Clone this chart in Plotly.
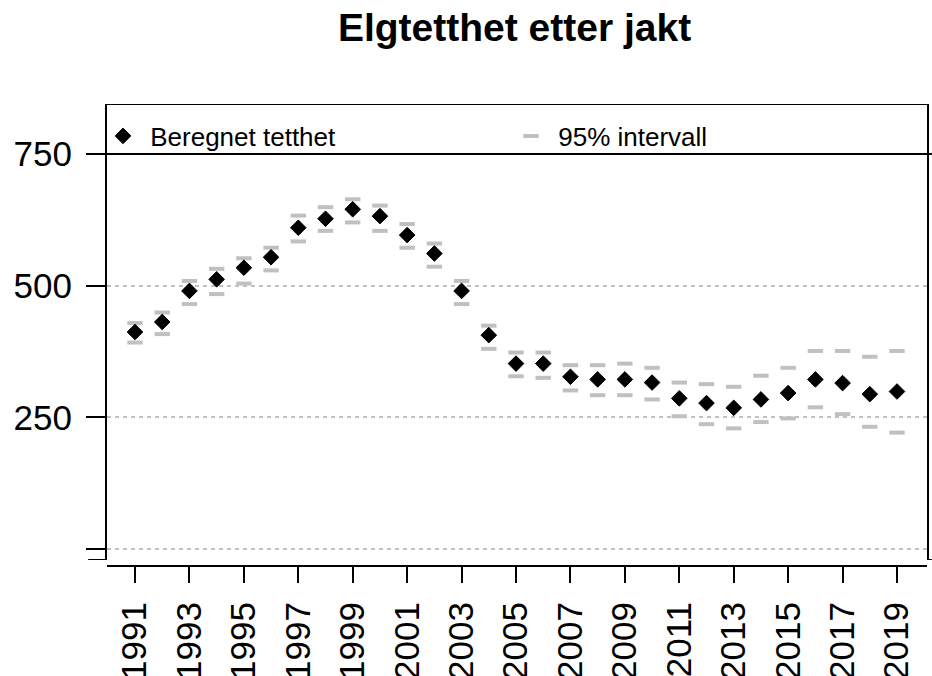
import plotly.graph_objects as go

years = list(range(1991, 2020))
estimate = [412, 431, 490, 512, 534, 554, 610, 627, 645, 632, 596, 561, 490, 406, 352,
            352, 327, 322, 322, 316, 286, 277, 268, 284, 296, 322, 315, 294, 299]
upper = [429, 449, 509, 532, 552, 572, 633, 649, 664, 652, 617, 580, 509, 424, 373,
         373, 349, 349, 352, 344, 316, 313, 308, 329, 344, 376, 376, 365, 376]
lower = [392, 408, 465, 484, 504, 529, 584, 604, 620, 604, 572, 536, 465, 380, 328,
         325, 301, 292, 292, 284, 252, 237, 229, 241, 248, 269, 256, 232, 221]
x_ticks = list(range(1991, 2020, 2))
y_ticks = [0, 250, 500, 750]
y_labels = ["", "250", "500", "750"]

FONT = "Arial, Liberation Sans, sans-serif"
grey = "#c0c0c0"
y_lo, y_hi = -20.9, 844.9

fig = go.Figure()

fig.add_trace(go.Scatter(
    x=years, y=upper, mode="markers", name="\u00a095% intervall",
    legendgroup="ci", legendrank=2,
    marker=dict(symbol="line-ew", size=11, color=grey, line=dict(color=grey, width=4)),
))
fig.add_trace(go.Scatter(
    x=years, y=lower, mode="markers", name="95% intervall",
    legendgroup="ci", showlegend=False,
    marker=dict(symbol="line-ew", size=11, color=grey, line=dict(color=grey, width=4)),
))
fig.add_trace(go.Scatter(
    x=years, y=estimate, mode="markers", name="\u00a0Beregnet tetthet", legendrank=1,
    marker=dict(symbol="diamond", size=12, color="black", line=dict(color="black", width=1)),
))

# legend box bottom (solid line at 750) and top border
fig.add_shape(type="line", xref="paper", yref="y", x0=0, x1=1.006, y0=750, y1=750,
              line=dict(color="black", width=2))
fig.add_shape(type="line", xref="paper", yref="y", x0=0, x1=1, y0=y_hi, y1=y_hi,
              line=dict(color="black", width=2))
# little end ticks at the bottom of the frame
fig.add_shape(type="line", xref="paper", yref="y", x0=-0.023, x1=0, y0=y_lo, y1=y_lo,
              line=dict(color="black", width=2))
fig.add_shape(type="line", xref="paper", yref="y", x0=1, x1=1.006, y0=y_lo, y1=y_lo,
              line=dict(color="black", width=2))

fig.update_layout(
    width=932, height=676,
    margin=dict(l=107, r=5, t=104, b=110, autoexpand=False),
    paper_bgcolor="white", plot_bgcolor="white",
    font=dict(family=FONT, color="black"),
    title=dict(text="<b>Elgtetthet etter jakt</b>", x=0.497, xref="paper", xanchor="center",
               y=1 - 27 / 676, yref="container", yanchor="middle",
               font=dict(size=39, family=FONT, color="black")),
    showlegend=True,
    legend=dict(orientation="h", xref="container", x=103 / 932, xanchor="left",
                yref="container", y=1 - 136 / 676, yanchor="middle",
                entrywidth=363, entrywidthmode="pixels",
                bgcolor="rgba(0,0,0,0)", font=dict(size=26, family=FONT, color="black"),
                itemsizing="trace"),
)

fig.update_xaxes(
    range=[1989.971, 2020.102], anchor="free", position=0, automargin=False,
    tickmode="array", tickvals=x_ticks, ticktext=[str(v) for v in x_ticks],
    tickangle=-90, ticks="outside", ticklen=16, tickwidth=2, tickcolor="black",
    ticklabelstandoff=5,
    tickfont=dict(size=35, family=FONT, color="black"),
    showline=True, linecolor="black", linewidth=2, showgrid=False, zeroline=False,
)
fig.update_yaxes(
    range=[y_lo, y_hi], domain=[6 / 462, 1], automargin=False,
    tickmode="array", tickvals=y_ticks, ticktext=y_labels,
    ticks="outside", ticklen=19, tickwidth=2, tickcolor="black",
    ticklabelstandoff=7,
    tickfont=dict(size=35, family=FONT, color="black"),
    showline=True, mirror=True, linecolor="black", linewidth=2,
    showgrid=True, gridcolor=grey, gridwidth=1.5, griddash="4px,4px", zeroline=False,
)

fig.write_html("out.html", config={"displayModeBar": False},
               post_script="document.body.style.margin='0px';document.body.style.overflow='hidden';")
